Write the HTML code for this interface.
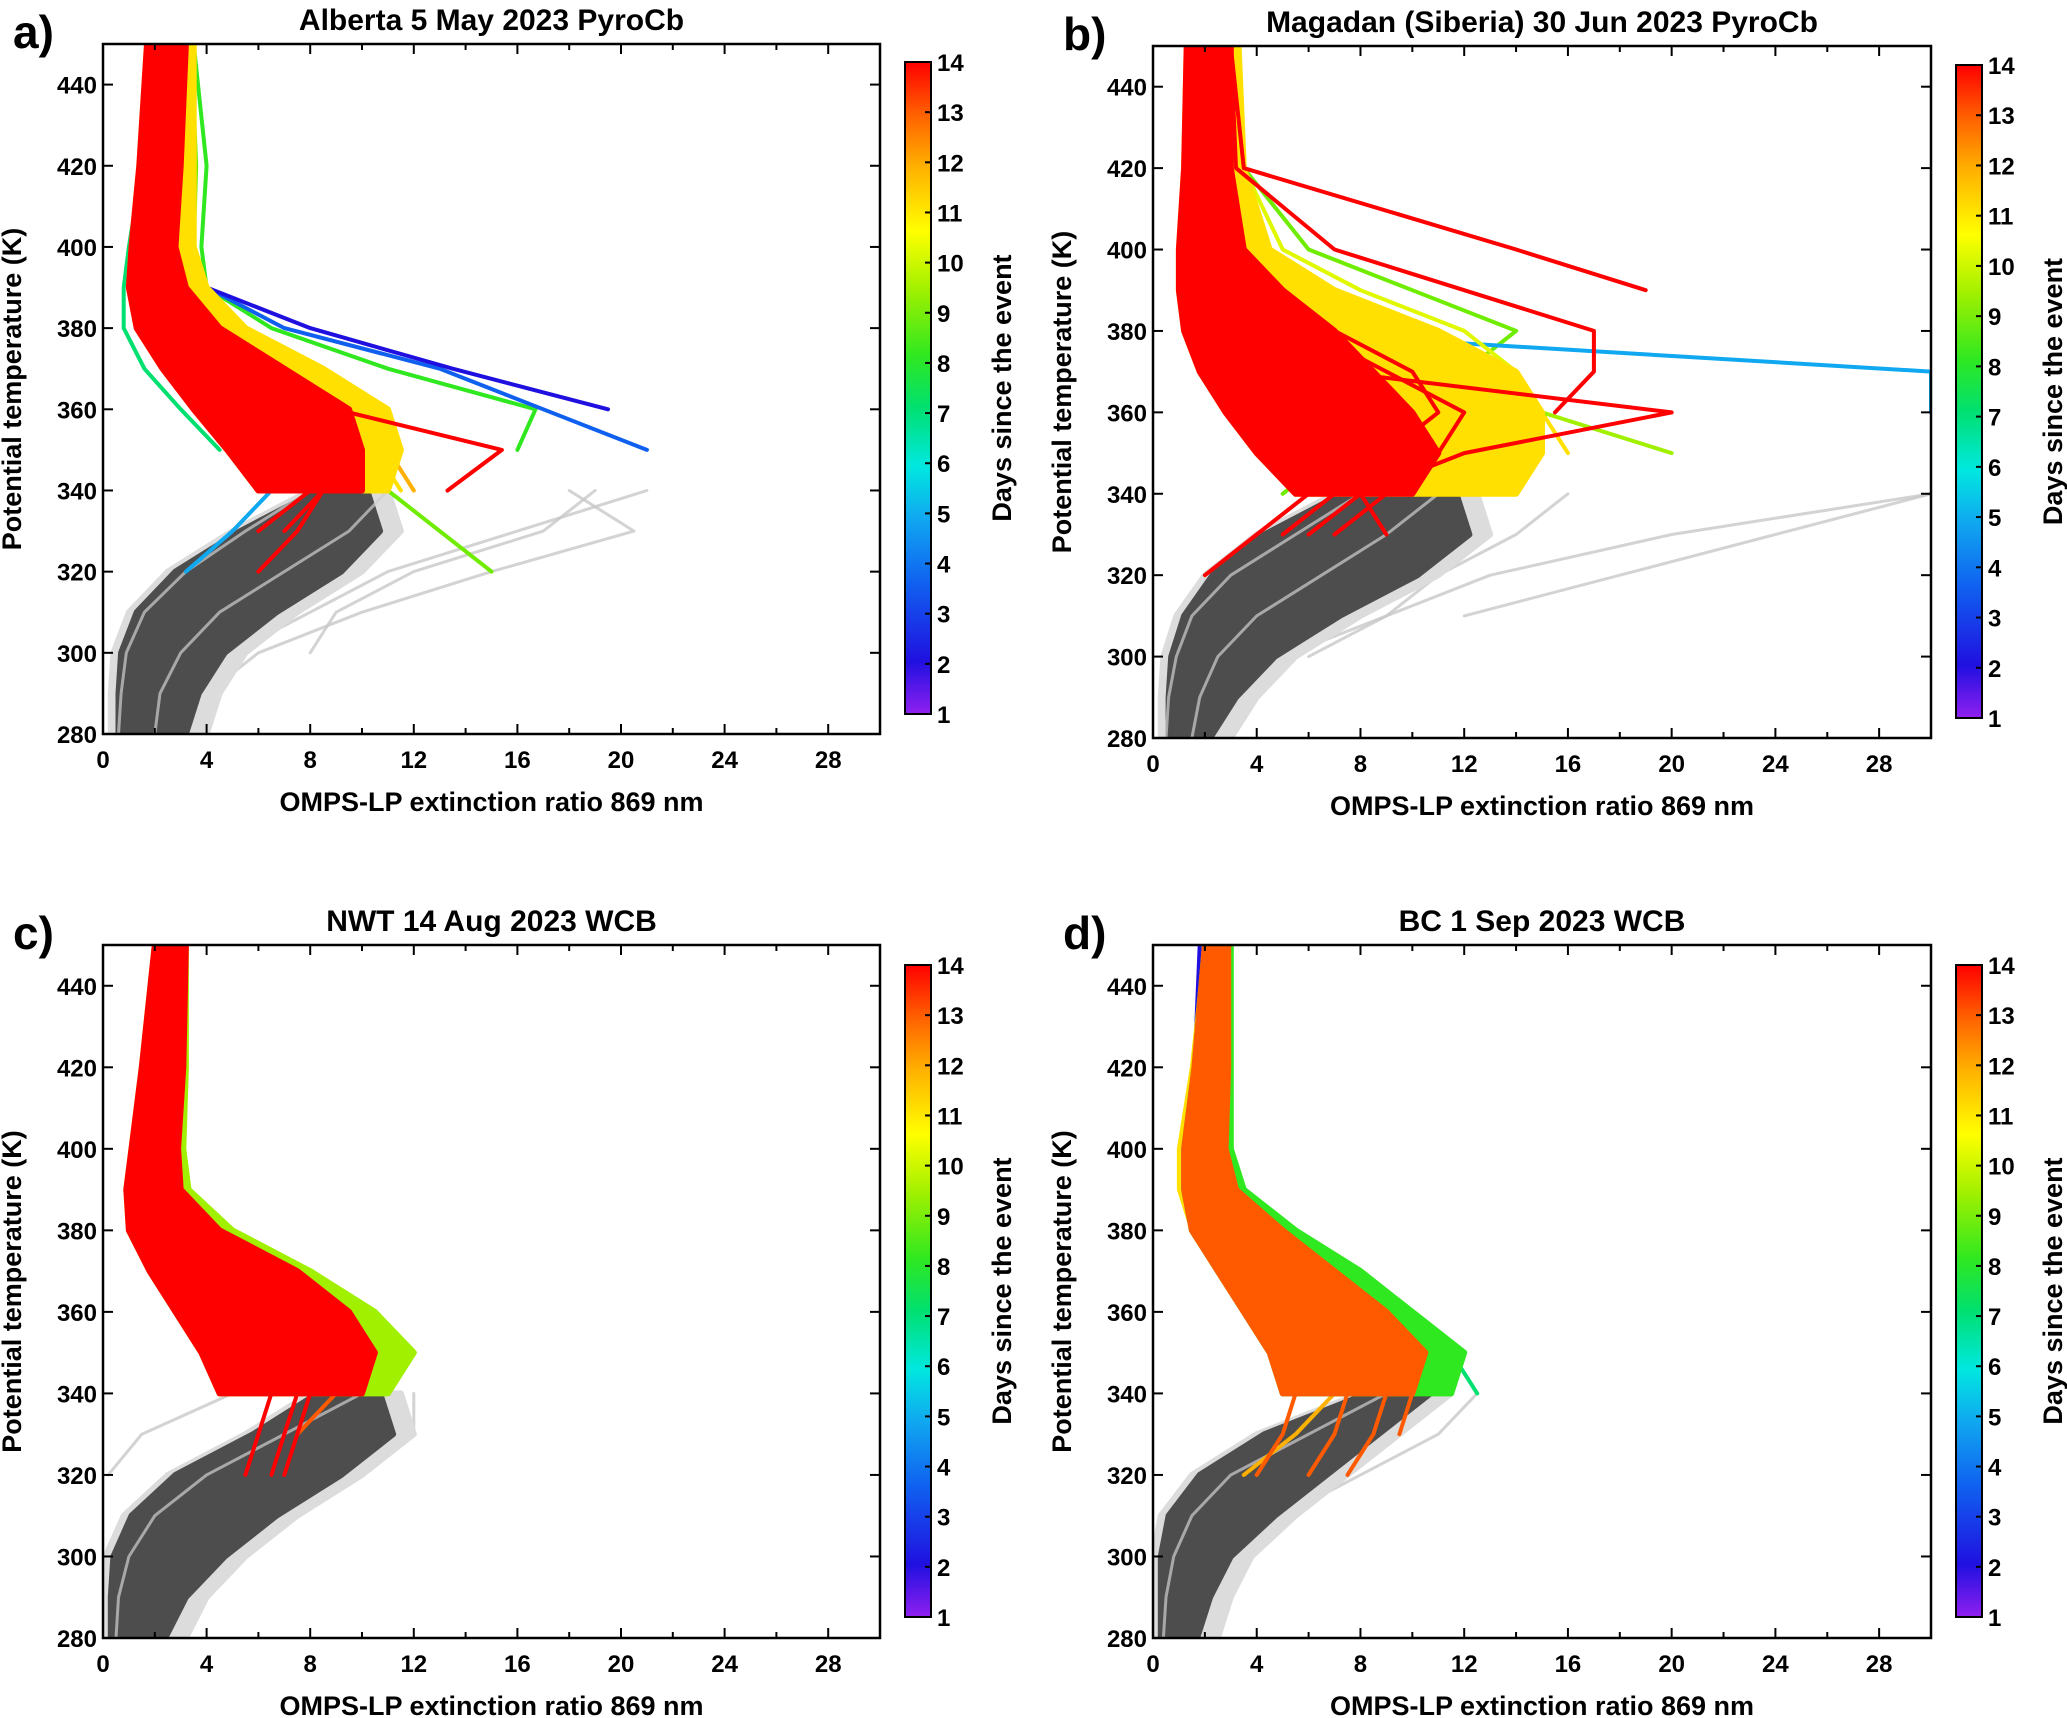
<!DOCTYPE html>
<html><head><meta charset="utf-8">
<style>
html,body{margin:0;padding:0;background:#fff;}
svg{display:block;font-family:"Liberation Sans",Arial,sans-serif;font-weight:bold;}
</style></head>
<body>
<svg id="fig" width="2067" height="1718" viewBox="0 0 2067 1718" xmlns="http://www.w3.org/2000/svg">
<defs>
<linearGradient id="cmap" x1="0" y1="1" x2="0" y2="0">
<stop offset="0" stop-color="#9020f0"/><stop offset="0.08" stop-color="#2010e0"/><stop offset="0.2" stop-color="#1060f0"/>
<stop offset="0.3" stop-color="#10a8f0"/><stop offset="0.38" stop-color="#00e8e0"/><stop offset="0.47" stop-color="#00e070"/>
<stop offset="0.55" stop-color="#30e820"/><stop offset="0.65" stop-color="#a0f000"/><stop offset="0.74" stop-color="#ffff00"/>
<stop offset="0.84" stop-color="#ffb000"/><stop offset="0.92" stop-color="#ff6000"/><stop offset="1" stop-color="#ff0000"/>
</linearGradient>
</defs>
<g id="root"></g>
</svg>
<script>
// ---- data ----
const xTicks = [0,4,8,12,16,20,24,28];
const yTicks = [280,300,320,340,360,380,400,420,440];
const cbTicks = [1,2,3,4,5,6,7,8,9,10,11,12,13,14];
const panelTitles = ["Alberta 5 May 2023 PyroCb","Magadan (Siberia) 30 Jun 2023 PyroCb","NWT 14 Aug 2023 WCB","BC 1 Sep 2023 WCB"];
const panelLetters = ["a)","b)","c)","d)"];
const grayT = [280,290,300,310,320,330,340];
const colT = [320,330,340,350,360,370,380,390,400,420,450];
const bandT = [340,350,360,370,380,390,400,420,450];

// panel a
const aGrayL = [0.3,0.3,0.4,1.0,2.5,5.0,8.0];
const aGrayR = [4.0,4.5,5.5,7.5,10,11.5,11];
const aBandL = [6.0,4.8,3.5,2.3,1.3,1.0,1.1,1.4,1.7];
const aBandR = [10,10,9.5,7,4.5,3.2,2.8,3.0,3.2];
const aBandDay = 14;
const aOuterR = [11,11.5,11,8.5,5.5,4,3.5,3.5,3.5];
const aOuterDay = 11;
const aGray = [[0.6,0.7,0.9,1.6,3.2,5.5,8],[2,2.2,3,4.5,7,9.5,11]];
const aGrayLight = [[null,null,8,9,12,17,19],[null,4,6,10,15,20.5,18],[null,null,5,8,11,16,21]];
const aCol = [[null,null,7.5,6.5,5,3.5,2.2,1.5,1.4,1.7,2.2],[null,7,8.5,7.5,6,4.5,3,2.1,1.9,2.2,2.6],[null,6,8,7,5.5,4,2.5,1.8,1.6,2,2.4],
 [null,null,10.5,9,7.5,5.5,3.8,2.8,2.5,2.8,3.0],[null,null,11.5,10.5,8.5,6.5,4.5,3.3,2.8,3,3.2],[null,null,12,11,9.5,7,5,3.5,3,3.2,3.4],
 [null,null,null,4.5,3,1.6,0.8,0.8,1,1.5,2],[15,13,11,9.5,8,6,4.5,3.6,3.5,3.6,3.4],[null,null,null,16,16.7,11,6.5,4,3.8,4,3.5],
 [null,null,null,21,17,13,7,4,null,null,null],[null,null,null,null,19.5,13.5,8,4,null,null,null],[null,null,13.3,15.4,9,5.5,3.5,2.5,2.2,2.6,2.8],
 [3.2,5,6.5,5.5,4,2.5,1.5,1.2,1.4,1.7,2.0],[6,7.5,8.5,7.5,6,4,2.5,1.8,1.7,2,2.4]];
const aDays = [14,14,14,13,11,12,6,8,7,3,2,14,4,14];

// panel b
const bGrayL = [0.3,0.3,0.4,0.9,2,4,7];
const bGrayR = [3.0,4.0,5.5,8,11,13,12.5];
const bBandL = [5.5,4,2.8,1.8,1.2,1.0,1.0,1.2,1.3];
const bBandR = [10,11,10,8.5,7,5,3.5,3.0,3.0];
const bBandDay = 14;
const bOuterR = [14,15,15,14,11,7,4.5,3.5,3.3];
const bOuterDay = 11;
const bGray = [[0.5,0.6,0.9,1.5,3,5.5,8],[1.5,1.8,2.5,4,6.5,9,11]];
const bGrayLight = [[null,null,6,9,13,20,30],[null,null,null,12,18,24,30],[null,3,5,9,11,14,16]];
const bCol = [[null,null,7,5,3.5,2.5,1.8,1.3,1.2,1.2,1.5],[null,9,8,7,5.5,4,3,2.2,1.8,1.8,2],[null,null,null,10,8.5,6.5,4.5,3,2.3,2.2,2.5],
 [null,null,12,11,9,7,5,3.5,2.8,2.6,2.7],[null,null,null,14,13,11,8,5,3.5,2.8,2.8],[null,null,null,16,15,13,10,6,4,3.2,3.2],
 [null,null,5,7,9,12,14,10,6,3.5,3.3],[null,null,null,null,15.5,17,17,12,7,3.2,3],[null,null,null,null,null,null,null,19,14,3.5,3],
 [null,null,null,null,30,30,4,null,null,null,null],[null,6,8,12,20,7,2,null,null,null,null],[2,4,6,8,6,3,1.6,1.2,1.2,1.3,1.6],
 [null,null,null,20,15,9,5,3.5,2.8,2.7,2.6],[null,null,null,null,14,13,11,7,4.5,3.2,3],[null,null,null,null,15,14,12,8,5,3.5,3.2],
 [null,5,7,9,11,10,7,5,3.5,2.8,2.5],[null,7,9,11,12,9,6,4,3,2.5,2.3]];
const bDays = [14,14,14,13,11,11,8,14,14,4,14,14,9,11,10,14,14];

// panel c
const cGrayL = [0,0,0.1,0.8,2.5,5.5,8];
const cGrayR = [3.2,4.0,5.5,7.5,10,12,11.5];
const cBandL = [4.5,3.8,2.8,1.8,1.0,0.9,1.1,1.5,2.0];
const cBandR = [10,10.5,9.5,7.5,4.5,3.0,2.9,3.1,3.2];
const cBandDay = 14;
const cOuterR = [11,12,10.5,8,5,3.3,3.1,3.2,3.2];
const cOuterDay = 9;
const cGray = [[0.5,0.6,1,2,4,7,10]];
const cGrayLight = [[null,null,null,null,0.2,1.5,5],[null,3,4.5,7,10,12,12]];
const cCol = [[null,null,null,12,9,6,3.5,2.8,2.5,2.7,2.9],[null,null,11,10,8,5.5,3,2.5,2.3,2.6,2.8],[null,null,10.5,10,7.5,5,2.8,2.3,2.2,2.5,2.7],
 [5.5,6,6.5,5.5,4,2.5,1.5,1.3,1.4,1.8,2.2],[7,7.5,8,7,5.5,3.5,2,1.7,1.8,2.1,2.4],[null,7.5,9,8,6.5,4.5,2.6,2.2,2.2,2.4,2.8],[null,null,10,9,7.5,5,3,2.5,2.5,2.7,3.0],
 [6.5,7,7.5,6.5,5,3,1.8,1.5,1.6,2,2.3]];
const cDays = [8,6,10,14,14,13,14,14];

// panel d
const dGrayL = [0,0,0,0.3,1.5,4,8];
const dGrayR = [2.5,3.0,3.8,5.5,7.5,9.5,11.5];
const dBandL = [5.0,4.5,3.5,2.5,1.5,1.2,1.2,1.6,2.0];
const dBandR = [10,10.5,9,7,5,3.2,2.8,2.9,2.9];
const dBandDay = 13;
const dOuterR = [11.5,12,10,8,5.5,3.5,3.0,3.0,3.0];
const dOuterDay = 7;
const dGray = [[0.4,0.5,0.8,1.5,3,6,9]];
const dGrayLight = [[null,null,null,5,8,11,12.5]];
const dCol = [[null,null,null,11,8,5.5,3.5,2.5,2.3,2.4,2.6],[null,null,11.5,10.5,8,5.5,3.5,2.6,2.5,2.5,2.6],[null,null,12.5,11.5,9,6,3.8,2.8,2.5,2.5,2.6],
 [4,5,5.5,5,3.8,2.5,1.5,1.3,1.4,1.8,2.2],[6,7,7.5,6.5,5,3.5,2.2,1.8,1.8,2.1,2.4],[7.5,8.5,9,8,6.5,4.5,2.8,2.3,2.2,2.4,2.6],[null,9.5,10,9,7.5,5,3.2,2.6,2.5,2.6,2.7],
 [null,null,null,null,null,null,3,2,1.6,1.6,1.8],[null,null,null,null,4.5,3.5,1.5,1.0,1.0,1.5,2.0],[3.5,5.5,7,6,4.5,3,1.8,1.4,1.5,1.9,2.3]];
const dDays = [2,4,6,13,13,13,13,2,11,12];

// ---- layout / styles ----
const panels = [
 {x0:103,x1:880,y0:44,y1:734,cbY0:62,cbY1:714,gl:aGrayL,gr:aGrayR,bl:aBandL,br:aBandR,bd:aBandDay,or:aOuterR,od:aOuterDay,gray:aGray,light:aGrayLight,col:aCol,days:aDays},
 {x0:1153,x1:1931,y0:46,y1:738,cbY0:65,cbY1:718,gl:bGrayL,gr:bGrayR,bl:bBandL,br:bBandR,bd:bBandDay,or:bOuterR,od:bOuterDay,gray:bGray,light:bGrayLight,col:bCol,days:bDays},
 {x0:103,x1:880,y0:945,y1:1638,cbY0:965,cbY1:1617,gl:cGrayL,gr:cGrayR,bl:cBandL,br:cBandR,bd:cBandDay,or:cOuterR,od:cOuterDay,gray:cGray,light:cGrayLight,col:cCol,days:cDays},
 {x0:1153,x1:1931,y0:945,y1:1638,cbY0:965,cbY1:1617,gl:dGrayL,gr:dGrayR,bl:dBandL,br:dBandR,bd:dBandDay,or:dOuterR,od:dOuterDay,gray:dGray,light:dGrayLight,col:dCol,days:dDays}];
const palette = ["#9020f0","#2010e0","#1060f0","#10a8f0","#00e8e0","#00e070","#30e820","#70ec00","#a0f000","#e0f800","#ffe000","#ffb000","#ff5a00","#ff0000"];
const NS="http://www.w3.org/2000/svg";
const root=document.getElementById('root');
function mk(tag,attrs,parent){const e=document.createElementNS(NS,tag);for(const k in attrs)e.setAttribute(k,attrs[k]);(parent||root).appendChild(e);return e;}
function txt(s,attrs,parent){const e=mk('text',attrs,parent);e.textContent=s;return e;}

panels.forEach((p,i)=>{
 const g=mk('g',{});
 
 
 const sx=v=>p.x0+v/30*(p.x1-p.x0);
 const sy=t=>p.y1-(t-280)/170*(p.y1-p.y0);
 const clip='clip'+i;
 const cp=mk('clipPath',{id:clip},g);mk('rect',{x:p.x0,y:p.y0,width:p.x1-p.x0,height:p.y1-p.y0},cp);
 const data=mk('g',{'clip-path':'url(#'+clip+')'},g);
 function band(L,R,ts,fill,name){
  let pts=L.map((v,k)=>sx(v).toFixed(1)+','+sy(ts[k]).toFixed(1));
  pts=pts.concat(R.map((v,k)=>sx(v).toFixed(1)+','+sy(ts[k]).toFixed(1)).reverse());
  const e=mk('polygon',{points:pts.join(' '),fill:fill,stroke:fill,'stroke-width':6,'stroke-linejoin':'round'},data);
  
  
 }
 function line(xs,ts,stroke,w,op,name){
  let d='';let started=false;
  xs.forEach((v,k)=>{if(v==null){started=false;return;}d+=(started?'L':'M')+sx(v).toFixed(1)+','+sy(ts[k]).toFixed(1);started=true;});
  if(!d)return;
  const e=mk('path',{d:d,fill:'none',stroke:stroke,'stroke-width':w,'stroke-opacity':op,'stroke-linejoin':'round','stroke-linecap':'round'},data);
  
  
 }
 p.light.forEach(xs=>line(xs,grayT,'#c8c8c8',3,0.8,'gray-profile-light'));
 band(p.gl,p.gr,grayT,'#dcdcdc','gray-envelope-light');
 band(p.gl.map(v=>v+0.3),p.gr.map(v=>v-0.8),grayT,'#4d4d4d','gray-profile-mass');
 p.gray.forEach(xs=>line(xs,grayT,'#cfcfcf',3,0.7,'gray-profile'));
 p.col.forEach((xs,k)=>{const dd=p.days[k];if(dd<p.bd)line(xs,colT,palette[dd-1],4,1,'profile-day-'+dd);});
 band(p.bl,p.or,bandT,palette[p.od-1],'profile-mass-day-'+p.od);
 band(p.bl,p.br,bandT,palette[p.bd-1],'profile-mass-day-'+p.bd);
 p.col.forEach((xs,k)=>{const dd=p.days[k];if(dd>=p.bd)line(xs,colT,palette[dd-1],4,1,'profile-day-'+dd);});
 // axes frame
 const fr=mk('rect',{x:p.x0,y:p.y0,width:p.x1-p.x0,height:p.y1-p.y0,fill:'none',stroke:'#000','stroke-width':2.5},g);
 
 
 for(let v=0;v<=30;v+=2){const X=sx(v);const L=(v%4==0)?10:6;
  mk('line',{x1:X,y1:p.y1,x2:X,y2:p.y1-L,stroke:'#000','stroke-width':2},g);mk('line',{x1:X,y1:p.y0,x2:X,y2:p.y0+L,stroke:'#000','stroke-width':2},g);}
 xTicks.forEach(v=>{const t=txt(String(v),{x:sx(v),y:p.y1+34,'font-size':24,'text-anchor':'middle'},g);
  });
 yTicks.forEach(v=>{const Y=sy(v);
  mk('line',{x1:p.x0,y1:Y,x2:p.x0+10,y2:Y,stroke:'#000','stroke-width':2},g);mk('line',{x1:p.x1,y1:Y,x2:p.x1-10,y2:Y,stroke:'#000','stroke-width':2},g);
  const t=txt(String(v),{x:p.x0-6,y:Y+9,'font-size':24,'text-anchor':'end'},g);
  });
 const xl=txt('OMPS-LP extinction ratio 869 nm',{x:(p.x0+p.x1)/2,y:p.y1+77,'font-size':27,'text-anchor':'middle'},g);
 
 const ycx=p.x0-82,ycy=(p.y0+p.y1)/2;
 const yl=txt('Potential temperature (K)',{x:ycx,y:ycy,'font-size':27,'text-anchor':'middle',transform:'rotate(-90 '+ycx+' '+ycy+')'},g);
 
 const ti=txt(panelTitles[i],{x:(p.x0+p.x1)/2,y:p.y0-14,'font-size':30,'text-anchor':'middle'},g);
 
 const le=txt(panelLetters[i],{x:p.x0-90,y:p.y0+4,'font-size':46},g);
 
 // colorbar
 const cbx=p.x1+25,cbw=26;
 const cb=mk('rect',{x:cbx,y:p.cbY0,width:cbw,height:p.cbY1-p.cbY0,fill:'url(#cmap)',stroke:'#000','stroke-width':2},g);
 
 cbTicks.forEach(d=>{const Y=p.cbY1-(d-1)/13*(p.cbY1-p.cbY0);
  mk('line',{x1:cbx+cbw-6,y1:Y,x2:cbx+cbw,y2:Y,stroke:'#000','stroke-width':2},g);
  const t=txt(String(d),{x:cbx+cbw+6,y:Y+9,'font-size':24},g);
  });
 const lx=cbx+cbw+80,ly=(p.cbY0+p.cbY1)/2;
 const cl=txt('Days since the event',{x:lx,y:ly,'font-size':27,'text-anchor':'middle',transform:'rotate(-90 '+lx+' '+ly+')'},g);
 
});
</script>
</body></html>
